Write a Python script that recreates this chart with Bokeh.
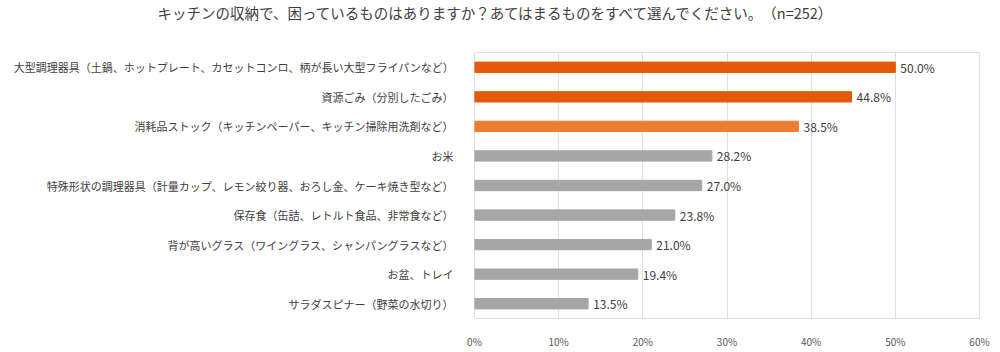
from bokeh.plotting import figure
from bokeh.models import ColumnDataSource, FixedTicker, CustomJSTickFormatter
from bokeh.core.properties import value
from bokeh.embed import file_html
from bokeh.resources import INLINE

title_text = "キッチンの収納で、困っているものはありますか？あてはまるものをすべて選んでください。　（n=252）"
categories = [
    "大型調理器具（土鍋、ホットプレート、カセットコンロ、柄が長い大型フライパンなど）",
    "資源ごみ（分別したごみ）",
    "消耗品ストック（キッチンペーパー、キッチン掃除用洗剤など）",
    "お米",
    "特殊形状の調理器具（計量カップ、レモン絞り器、おろし金、ケーキ焼き型など）",
    "保存食（缶詰、レトルト食品、非常食など）",
    "背が高いグラス（ワイングラス、シャンパングラスなど）",
    "お盆、トレイ",
    "サラダスピナー（野菜の水切り）",
]
values = [50.0, 44.8, 38.5, 28.2, 27.0, 23.8, 21.0, 19.4, 13.5]
colors = ["#E35A0A", "#E35A0A", "#ED7D31", "#A6A6A6", "#A6A6A6", "#A6A6A6", "#A6A6A6", "#A6A6A6", "#A6A6A6"]
x_ticks = [0, 10, 20, 30, 40, 50, 60]

FONT = "Noto Sans CJK JP"

src = ColumnDataSource(dict(
    cat=categories, val=values, col=colors,
    lab=[f"{v:.1f}%" for v in values],
))

p = figure(width=1000, height=352, y_range=list(reversed(categories)), x_range=(0, 60),
           output_backend="svg", toolbar_location=None, title=title_text + "\n ",
           min_border_left=474, min_border_right=21, min_border_top=52, min_border_bottom=34)

p.title.align = "left"
p.title.offset = -317
p.title.text_font = FONT
p.title.text_font_size = "14.5px"
p.title.text_font_style = "normal"
p.title.text_color = "#404040"
p.title.text_line_height = 1.4
p.title.standoff = 0

p.hbar(y="cat", right="val", left=0, height=0.35, color="col", source=src)
p.text(x="val", y="cat", text="lab", source=src, x_offset=5,
       text_baseline="middle", text_align="left", text_font=value(FONT),
       text_font_size="12px", text_color="#404040")

p.xaxis.ticker = FixedTicker(ticks=x_ticks)
p.xaxis.formatter = CustomJSTickFormatter(code="return tick + '%';")
p.xaxis.axis_line_color = None
p.xaxis.major_tick_line_color = None
p.xaxis.minor_tick_line_color = None
p.xaxis.major_label_text_font = FONT
p.xaxis.major_label_text_font_size = "10px"
p.xaxis.major_label_text_color = "#595959"
p.xaxis.major_label_standoff = 9

p.yaxis.axis_line_color = None
p.yaxis.major_tick_line_color = None
p.yaxis.minor_tick_line_color = None
p.yaxis.major_label_text_font = FONT
p.yaxis.major_label_text_font_size = "11px"
p.yaxis.major_label_text_color = "#404040"
p.yaxis.major_label_standoff = 15

p.ygrid.grid_line_color = None
p.xgrid.grid_line_color = "#E0E0E0"
p.outline_line_color = "#E0E0E0"
p.background_fill_color = "white"
p.border_fill_color = "white"

open("out.html", "w").write(file_html(p, INLINE))
